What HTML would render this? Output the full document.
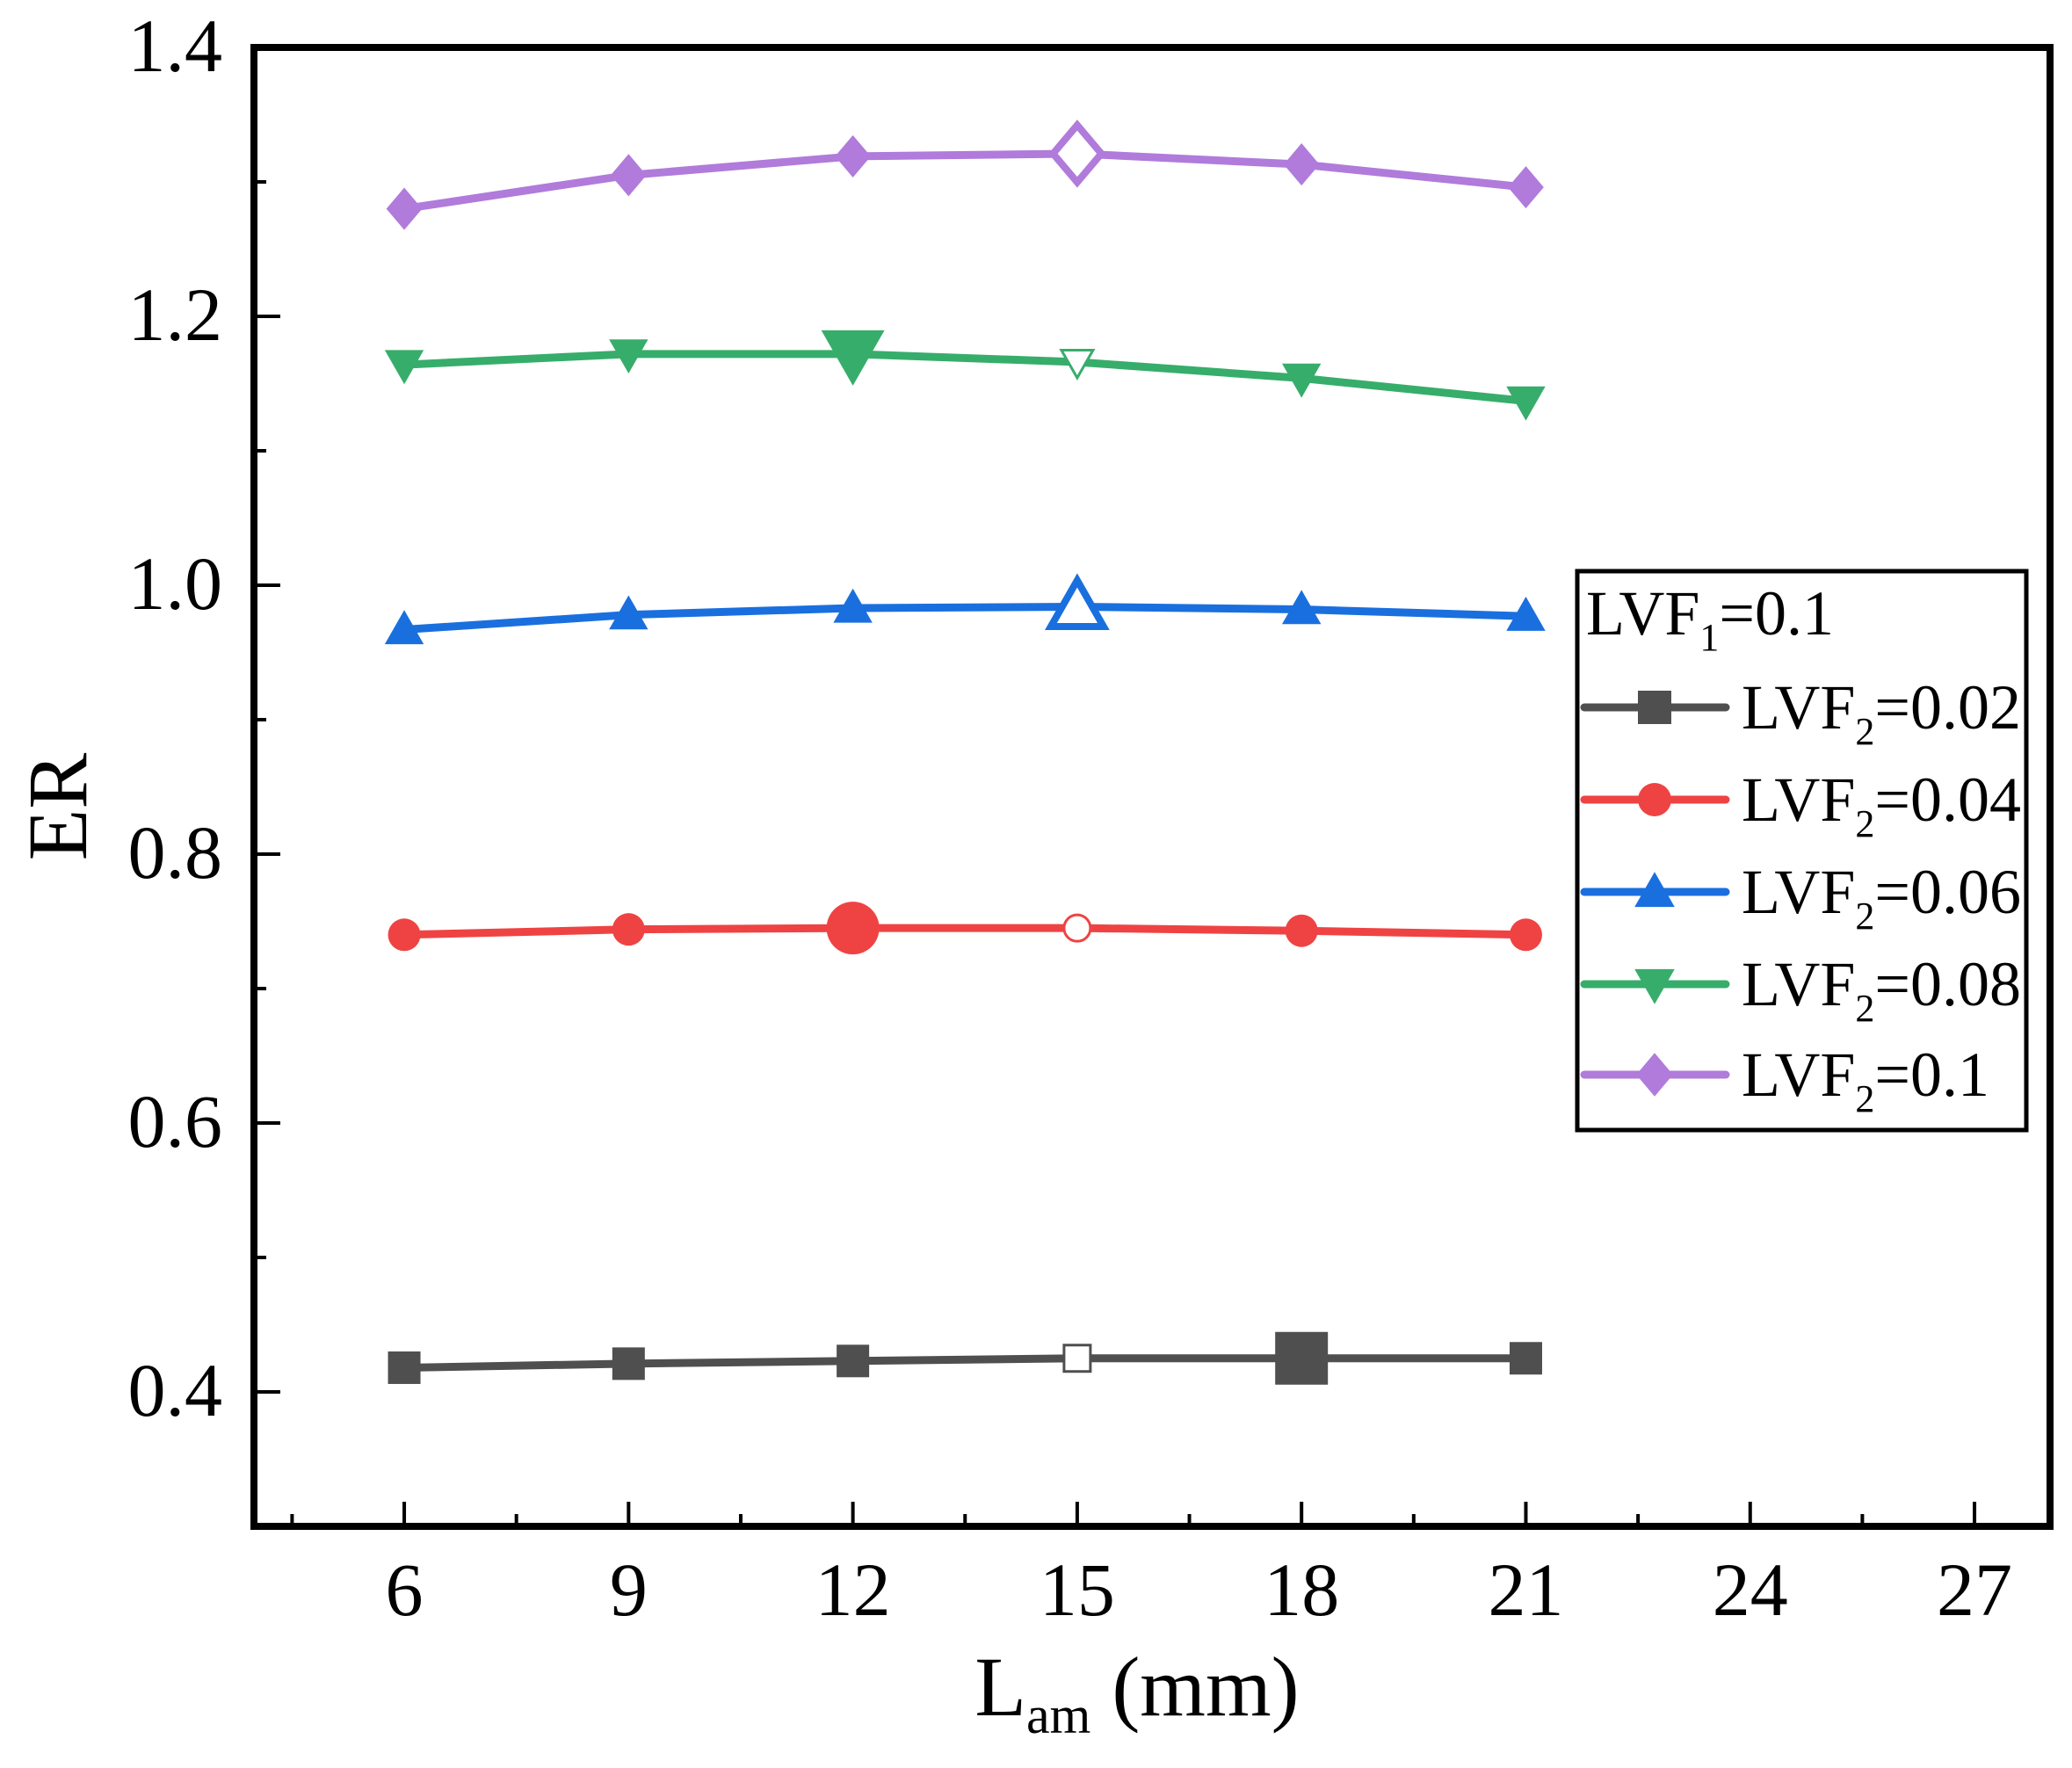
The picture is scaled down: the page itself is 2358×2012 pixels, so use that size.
<!DOCTYPE html>
<html><head><meta charset="utf-8"><style>
html,body{margin:0;padding:0;background:#fff;}
svg{display:block;font-family:"Liberation Serif",serif;}
</style></head><body>
<svg id="chart" width="2358" height="2012" viewBox="0 0 2358 2012" xmlns="http://www.w3.org/2000/svg">
<g id="plot"></g>
<g id="axes"></g>
<g id="legend"></g>
</svg>
<script>
const xValues = [6, 9, 12, 15, 18, 21];
const seriesNames = ["LVF2=0.02", "LVF2=0.04", "LVF2=0.06", "LVF2=0.08", "LVF2=0.1"];
const lvf002 = [0.418, 0.421, 0.423, 0.425, 0.425, 0.425];
const lvf004 = [0.740, 0.744, 0.745, 0.745, 0.743, 0.740];
const lvf006 = [0.967, 0.978, 0.983, 0.984, 0.982, 0.977];
const lvf008 = [1.164, 1.172, 1.172, 1.166, 1.154, 1.137];
const lvf010 = [1.280, 1.305, 1.319, 1.321, 1.313, 1.296];
const xTicks = [6, 9, 12, 15, 18, 21, 24, 27];
const yTicks = [0.4, 0.6, 0.8, 1.0, 1.2, 1.4];
const yTickLabels = ["0.4", "0.6", "0.8", "1.0", "1.2", "1.4"];

const NS = "http://www.w3.org/2000/svg";
const L = 289, R = 2333, T = 54, B = 1737;
const xMin = 3.99, xMax = 28.01, yMin = 0.3, yMax = 1.4;
function xs(v){ return L + (v - xMin) / (xMax - xMin) * (R - L); }
function ys(v){ return B - (v - yMin) / (yMax - yMin) * (B - T); }
function mk(tag, attrs, parent){ const e = document.createElementNS(NS, tag); for (const k in attrs) e.setAttribute(k, attrs[k]); parent.appendChild(e); return e; }

const plot = document.getElementById('plot');
const axes = document.getElementById('axes');
const legend = document.getElementById('legend');

const styles = [
  {c:"#4f4f4f", m:"square", big:4, hollow:3, data:lvf002},
  {c:"#ef4343", m:"circle", big:2, hollow:3, data:lvf004},
  {c:"#1a6fdf", m:"up", big:-1, hollow:-1, bigHollow:3, data:lvf006},
  {c:"#37ad6b", m:"down", big:2, hollow:3, data:lvf008},
  {c:"#b07bdb", m:"diamond", big:-1, hollow:-1, bigHollow:3, data:lvf010}
];

function marker(parent, type, cx, cy, s, color, hollow, sw){
  const fill = hollow ? "#fff" : color;
  const st = hollow ? color : "none";
  let el;
  if (type === "square") el = mk('rect', {x:cx-s/2, y:cy-s/2, width:s, height:s, fill:fill, stroke:st, 'stroke-width':sw}, parent);
  else if (type === "circle") el = mk('circle', {cx:cx, cy:cy, r:s/2, fill:fill, stroke:st, 'stroke-width':sw}, parent);
  else if (type === "up") el = mk('polygon', {points:`${cx},${cy-s*0.6} ${cx-s*0.6},${cy+s*0.45} ${cx+s*0.6},${cy+s*0.45}`, fill:fill, stroke:st, 'stroke-width':sw}, parent);
  else if (type === "down") el = mk('polygon', {points:`${cx},${cy+s*0.6} ${cx-s*0.6},${cy-s*0.45} ${cx+s*0.6},${cy-s*0.45}`, fill:fill, stroke:st, 'stroke-width':sw}, parent);
  else el = mk('polygon', {points:`${cx},${cy-s*0.65} ${cx+s*0.55},${cy} ${cx},${cy+s*0.65} ${cx-s*0.55},${cy}`, fill:fill, stroke:st, 'stroke-width':sw}, parent);
  return el;
}

styles.forEach((s, si) => {
  const g = mk('g', {}, plot);
  
  
  const pts = s.data.map((v, i) => xs(xValues[i]) + "," + ys(v)).join(" ");
  const line = mk('polyline', {points:pts, fill:"none", stroke:s.c, 'stroke-width':9, 'stroke-linejoin':'round'}, g);
  
  
  s.data.forEach((v, i) => {
    let size = 37, hollow = false, sw = 3;
    if (i === s.big) size = 60;
    if (i === s.hollow) { hollow = true; size = 30; sw = 3; }
    if (i === s.bigHollow) { hollow = true; size = 50; sw = 8; }
    const m = marker(g, s.m, xs(xValues[i]), ys(v), size, s.c, hollow, sw);
    
    
  });
});

const frame = mk('rect', {x:L, y:T, width:R-L, height:B-T, fill:"none", stroke:"#000", 'stroke-width':8}, axes);



xTicks.forEach(v => {
  const x = xs(v);
  const t = mk('line', {x1:x, x2:x, y1:B, y2:B-28, stroke:"#000", 'stroke-width':4}, axes);
  
  
  const mx = xs(v - 1.5);
  const mt = mk('line', {x1:mx, x2:mx, y1:B, y2:B-14, stroke:"#000", 'stroke-width':4}, axes);
  
  
  const lb = mk('text', {x:x, y:1838, 'text-anchor':'middle', 'font-size':86}, axes);
  lb.textContent = String(v);
  
  
});
yTicks.forEach((v, i) => {
  const y = ys(v);
  const t = mk('line', {x1:L, x2:L+30, y1:y, y2:y, stroke:"#000", 'stroke-width':4}, axes);
  
  
  const my = ys(v - 0.1);
  const mt = mk('line', {x1:L, x2:L+14, y1:my, y2:my, stroke:"#000", 'stroke-width':4}, axes);
  
  
  const lb = mk('text', {x:253, y:y+27, 'text-anchor':'end', 'font-size':86}, axes);
  lb.textContent = yTickLabels[i];
  
  
});

const xt = mk('text', {x:1294, y:1952, 'text-anchor':'middle', 'font-size':96}, axes);
xt.innerHTML = 'L<tspan font-size="60" dy="20">am</tspan><tspan dy="-20"> (mm)</tspan>';


const yt = mk('text', {x:0, y:0, 'text-anchor':'middle', 'font-size':96, transform:'translate(98,918) rotate(-90)'}, axes);
yt.textContent = 'ER';



const lbox = mk('rect', {x:1795, y:650, width:511, height:636, fill:"#fff", stroke:"#000", 'stroke-width':5}, legend);


const lt = mk('text', {x:1805, y:722, 'font-size':72}, legend);
lt.innerHTML = 'LVF<tspan font-size="44" dy="18">1</tspan><tspan dy="-18">=0.1</tspan>';


const centers = [805, 910, 1015, 1120, 1223];
const labelVals = ["0.02", "0.04", "0.06", "0.08", "0.1"];
styles.forEach((s, i) => {
  const g = mk('g', {}, legend);
  
  
  const cy = centers[i];
  mk('line', {x1:1803, x2:1964, y1:cy, y2:cy, stroke:s.c, 'stroke-width':9, 'stroke-linecap':'round'}, g);
  marker(g, s.m, 1883, cy, 38, s.c, false, 0);
  const tx = mk('text', {x:1982, y:cy+24, 'font-size':72}, g);
  tx.innerHTML = 'LVF<tspan font-size="44" dy="18">2</tspan><tspan dy="-18">=' + labelVals[i] + '</tspan>';
});
</script>
</body></html>
